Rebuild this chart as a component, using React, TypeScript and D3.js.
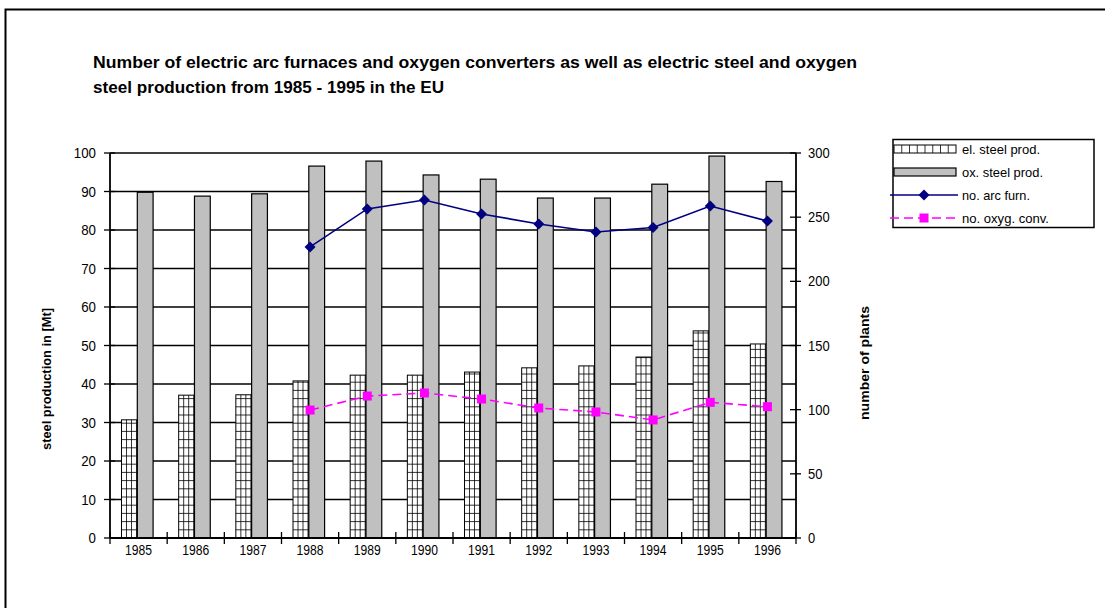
import React from "react";
import * as d3 from "d3";

// Years on the category axis
const years = ["1985", "1986", "1987", "1988", "1989", "1990", "1991", "1992", "1993", "1994", "1995", "1996"];
// Electric steel production [Mt]
const elSteel = [30.7, 37.1, 37.2, 40.8, 42.3, 42.3, 43.1, 44.2, 44.7, 47.0, 53.8, 50.4];
// Oxygen steel production [Mt]
const oxSteel = [89.8, 88.8, 89.4, 96.6, 97.9, 94.3, 93.2, 88.3, 88.3, 91.9, 99.2, 92.6];
// Number of electric arc furnaces
const arcFurn: (number | null)[] = [null, null, null, 226.8, 256.4, 263.4, 252.5, 244.7, 238.4, 242.0, 258.7, 247.0];
// Number of oxygen converters
const oxygConv: (number | null)[] = [null, null, null, 99.7, 110.6, 113.0, 108.3, 101.3, 98.2, 92.0, 105.7, 102.3];
// Axis ticks
const leftTicks = [0, 10, 20, 30, 40, 50, 60, 70, 80, 90, 100];
const rightTicks = [0, 50, 100, 150, 200, 250, 300];

const titleLines = [
  "Number of electric arc furnaces and oxygen converters as well as electric steel and oxygen",
  "steel production from 1985 - 1995 in the EU",
];
const legendItems = ["el. steel prod.", "ox. steel prod.", "no. arc furn.", "no. oxyg. conv."];

const W = 1105;
const H = 608;
const left = 110;
const right = 796;
const top = 153;
const bottom = 538;
const font = "'Liberation Sans', Arial, sans-serif";
const NAVY = "#000080";
const MAGENTA = "#ff00ff";

// narrow-looking text: glyphs squeezed to a target width
const Narrow = (props: any) => {
  const { children, width, ...rest } = props;
  return (
    <text {...rest} textLength={width} lengthAdjust="spacingAndGlyphs">
      {children}
    </text>
  );
};

export default function App() {
  const x = d3.scaleBand<string>().domain(years).range([left, right]).padding(0);
  const bw = x.bandwidth();
  const inner = d3.scaleBand<string>().domain(["el", "ox"]).range([0, bw]).paddingInner(0).paddingOuter(0.81).align(0.45);
  const yL = d3.scaleLinear().domain([0, 100]).range([bottom, top]);
  const yR = d3.scaleLinear().domain([0, 300]).range([bottom, top]);
  const cx = (i: number) => (x(years[i]) as number) + bw / 2;

  const lineGen = d3
    .line<number | null>()
    .defined((d) => d !== null)
    .x((_, i) => cx(i))
    .y((d) => yR(d as number));

  const barW = inner.bandwidth();

  // grid-pattern bar for electric steel
  const gridBar = (bx: number, by: number, w: number, h: number, key: string, cw = 5, ch = 8.2) => {
    const cols = d3.range(1, Math.ceil(w / cw)).map((k) => bx + k * cw).filter((v) => v < bx + w - 0.5);
    const rows = d3.range(1, Math.ceil(h / ch)).map((k) => by + h - k * ch).filter((v) => v > by + 0.5);
    return (
      <g key={key}>
        <rect x={bx} y={by} width={w} height={h} fill="#fff" stroke="#000" strokeWidth={1} />
        {cols.map((cxv, j) => (
          <line key={"c" + j} x1={cxv} x2={cxv} y1={by} y2={by + h} stroke="#000" strokeWidth={0.8} />
        ))}
        {rows.map((ry, j) => (
          <line key={"r" + j} x1={bx} x2={bx + w} y1={ry} y2={ry} stroke="#000" strokeWidth={0.8} />
        ))}
      </g>
    );
  };

  const diamond = (px: number, py: number, s: number, key: string) => (
    <path key={key} d={`M${px},${py - s}L${px + s},${py}L${px},${py + s}L${px - s},${py}Z`} fill={NAVY} />
  );
  const square = (px: number, py: number, s: number, key: string) => (
    <rect key={key} x={px - s} y={py - s} width={2 * s} height={2 * s} fill={MAGENTA} />
  );

  const legX = 893;
  const legY = [149, 172, 195, 218];
  const legW = [78, 81, 68, 87];

  return (
    <svg width={W} height={H} style={{ position: "absolute", left: 0, top: 0, background: "#fff" }} fontFamily={font}>
      <rect x={0} y={0} width={W} height={H} fill="#fff" />
      {/* outer frame */}
      <rect x={5.5} y={9.5} width={1300} height={800} fill="none" stroke="#000" strokeWidth={2} />

      {/* title */}
      {titleLines.map((t, i) => (
        <Narrow key={i} x={93} y={68 + i * 25} fontSize={16.5} fontWeight="bold" width={i === 0 ? 764 : 351}>
          {t}
        </Narrow>
      ))}

      {/* horizontal gridlines */}
      {leftTicks.map((t) => (
        <line key={"g" + t} x1={left} x2={right} y1={yL(t)} y2={yL(t)} stroke="#000" strokeWidth={1.3} />
      ))}

      {/* bars */}
      {years.map((yr, i) => {
        const x0 = x(yr) as number;
        const ex = x0 + (inner("el") as number);
        const ox = x0 + (inner("ox") as number);
        return (
          <g key={yr}>
            {gridBar(ex, yL(elSteel[i]), barW, bottom - yL(elSteel[i]), "e" + yr)}
            <rect x={ox} y={yL(oxSteel[i])} width={barW} height={bottom - yL(oxSteel[i])} fill="#c0c0c0" stroke="#000" strokeWidth={1.2} />
          </g>
        );
      })}

      {/* axes */}
      <line x1={left} x2={left} y1={top} y2={bottom} stroke="#000" strokeWidth={1.8} />
      <line x1={right} x2={right} y1={top} y2={bottom} stroke="#000" strokeWidth={1.8} />
      <line x1={left} x2={right} y1={bottom} y2={bottom} stroke="#000" strokeWidth={1.8} />
      {leftTicks.map((t) => (
        <g key={"lt" + t}>
          <line x1={left - 6} x2={left + 5} y1={yL(t)} y2={yL(t)} stroke="#000" strokeWidth={1.3} />
          <Narrow x={96} y={yL(t)} dy="0.36em" textAnchor="end" fontSize={14} width={String(t).length * 7.4}>
            {t}
          </Narrow>
        </g>
      ))}
      {rightTicks.map((t) => (
        <g key={"rt" + t}>
          <line x1={right - 6} x2={right + 5} y1={yR(t)} y2={yR(t)} stroke="#000" strokeWidth={1.3} />
          <Narrow x={808} y={yR(t)} dy="0.36em" textAnchor="start" fontSize={14} width={String(t).length * 7.2}>
            {t}
          </Narrow>
        </g>
      ))}
      {[...years.map((y) => x(y) as number), right].map((tx, i) => (
        <line key={"xt" + i} x1={tx} x2={tx} y1={bottom - 6} y2={bottom + 6} stroke="#000" strokeWidth={1.3} />
      ))}
      {years.map((yr, i) => (
        <Narrow key={"xl" + yr} x={cx(i) - 13.5} y={550} dy="0.36em" fontSize={14} width={27}>
          {yr}
        </Narrow>
      ))}

      {/* axis titles */}
      <g transform={`translate(51,379) rotate(-90)`}>
        <Narrow x={-71} y={0} fontSize={13} fontWeight="bold" width={142}>
          steel production in [Mt]
        </Narrow>
      </g>
      <g transform={`translate(869,363) rotate(-90)`}>
        <Narrow x={-57} y={0} fontSize={13} fontWeight="bold" width={114}>
          number of plants
        </Narrow>
      </g>

      {/* lines */}
      <path d={lineGen(arcFurn) || ""} fill="none" stroke={NAVY} strokeWidth={1.6} />
      <path d={lineGen(oxygConv) || ""} fill="none" stroke={MAGENTA} strokeWidth={1.6} strokeDasharray="9,5" />
      {arcFurn.map((v, i) => (v === null ? null : diamond(cx(i), yR(v), 5.5, "d" + i)))}
      {oxygConv.map((v, i) => (v === null ? null : square(cx(i), yR(v), 4.5, "s" + i)))}

      {/* legend */}
      <rect x={legX} y={139.5} width={201} height={88} fill="#fff" stroke="#000" strokeWidth={1.5} />
      {gridBar(legX + 1, legY[0] - 4, 62, 8, "legEl", 7.75, 20)}
      <rect x={legX + 1} y={legY[1] - 4} width={62} height={8} fill="#c0c0c0" stroke="#000" strokeWidth={1.2} />
      <line x1={legX - 3} x2={legX + 65} y1={legY[2]} y2={legY[2]} stroke={NAVY} strokeWidth={1.6} />
      {diamond(legX + 31, legY[2], 5.5, "legD")}
      <line x1={legX - 3} x2={legX + 65} y1={legY[3]} y2={legY[3]} stroke={MAGENTA} strokeWidth={1.6} strokeDasharray="9,5" />
      {square(legX + 31, legY[3], 4.5, "legS")}
      {legendItems.map((t, i) => (
        <Narrow key={t} x={962} y={legY[i]} dy="0.36em" fontSize={13.5} width={legW[i]}>
          {t}
        </Narrow>
      ))}
    </svg>
  );
}
